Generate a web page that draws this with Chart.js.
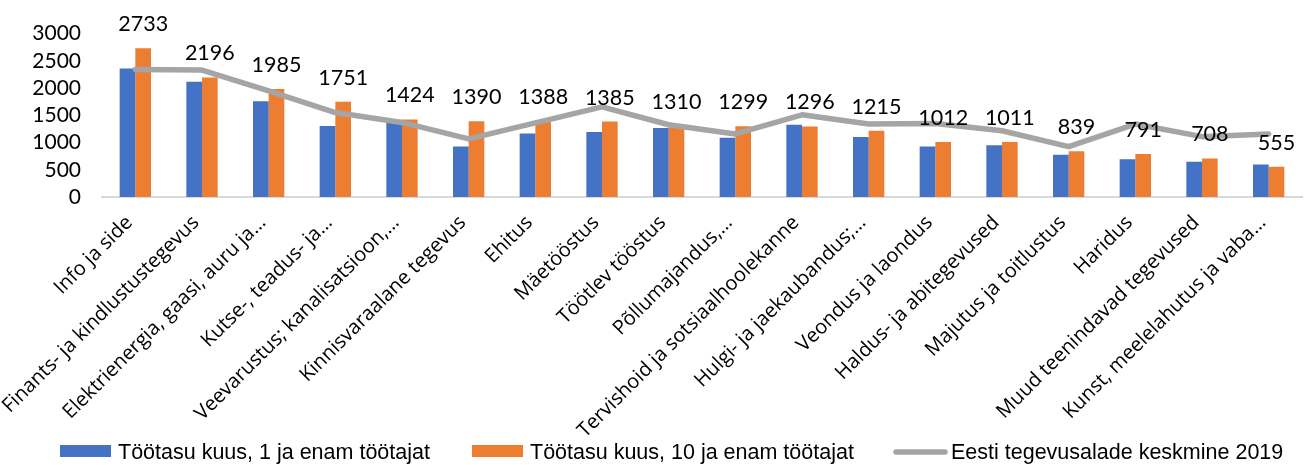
<!DOCTYPE html>
<html>
<head>
<meta charset="utf-8">
<script src="https://cdn.jsdelivr.net/npm/chart.js@4"></script>
<style>
  html, body { margin: 0; padding: 0; background: #fff; }
  canvas { display: block; }
</style>
</head>
<body>
<canvas id="chart" width="1312" height="465"></canvas>
<script>
// categories (tegevusalad)
const categories = [
  "Info ja side",
  "Finants- ja kindlustustegevus",
  "Elektrienergia, gaasi, auru ja…",
  "Kutse-, teadus- ja…",
  "Veevarustus; kanalisatsioon,…",
  "Kinnisvaraalane tegevus",
  "Ehitus",
  "Mäetööstus",
  "Töötlev tööstus",
  "Põllumajandus,…",
  "Tervishoid ja sotsiaalhoolekanne",
  "Hulgi- ja jaekaubandus;…",
  "Veondus ja laondus",
  "Haldus- ja abitegevused",
  "Majutus ja toitlustus",
  "Haridus",
  "Muud teenindavad tegevused",
  "Kunst, meelelahutus ja vaba…"
];

// series
const onePlus = [2361, 2117, 1759, 1303, 1358, 925, 1168, 1193, 1266, 1089, 1327, 1102, 925, 949, 774, 693, 646, 597];
const tenPlus = [2733, 2196, 1985, 1751, 1424, 1390, 1388, 1385, 1310, 1299, 1296, 1215, 1012, 1011, 839, 791, 708, 555];
const average2019 = [2343, 2330, 1950, 1551, 1369, 1066, 1360, 1655, 1327, 1157, 1509, 1339, 1350, 1217, 925, 1339, 1108, 1157];

const seriesNames = [
  "Töötasu kuus, 1 ja enam töötajat",
  "Töötasu kuus, 10 ja enam töötajat",
  "Eesti tegevusalade keskmine 2019"
];

const yTicks = [0, 500, 1000, 1500, 2000, 2500, 3000];

const BLUE = "#4472C4", ORANGE = "#ED7D31", GREY = "#A5A5A5";
const NUM_FONT = "Lato, sans-serif";
const CAT_FONT = '"Open Sans", Lato, sans-serif';
const LEGEND_FONT = '"Liberation Sans", Arial, sans-serif';

// numbers above the orange bars
const valueLabels = {
  id: "valueLabels",
  afterDatasetsDraw(chart){
    const meta = chart.getDatasetMeta(1);
    const ctx = chart.ctx;
    ctx.save();
    ctx.font = "21.5px " + NUM_FONT;
    ctx.fillStyle = "#000";
    ctx.textAlign = "center";
    ctx.textBaseline = "middle";
    meta.data.forEach((bar, i)=>{
      ctx.fillText(String(tenPlus[i]), bar.x, bar.y - 24);
    });
    ctx.restore();
  }
};

// legend row under the labels (the rotated labels run into it, like in Excel)
const legendX = [60, 472, 893];
const legendY = 451;
const bottomLegend = {
  id: "bottomLegend",
  afterDraw(chart){
    const ctx = chart.ctx;
    const ds = chart.data.datasets;
    ctx.save();
    ctx.font = "21.5px " + LEGEND_FONT;
    ctx.textBaseline = "alphabetic";
    legendX.forEach((x, i)=>{
      if(ds[i].type === "line"){
        ctx.strokeStyle = ds[i].borderColor;
        ctx.lineWidth = 5.5;
        ctx.lineCap = "round";
        ctx.beginPath();
        ctx.moveTo(x + 3, legendY + 1);
        ctx.lineTo(x + 52, legendY + 1);
        ctx.stroke();
      } else {
        ctx.fillStyle = ds[i].backgroundColor;
        ctx.fillRect(x, legendY - 6, 51, 12);
      }
      ctx.fillStyle = "#000";
      ctx.fillText(ds[i].label, x + 58, legendY + 8);
    });
    ctx.restore();
  }
};

new Chart(document.getElementById("chart"), {
  type: "bar",
  data: {
    labels: categories,
    datasets: [
      {label: seriesNames[0], data: onePlus, backgroundColor: BLUE, order: 1,
       categoryPercentage: 0.47, barPercentage: 1},
      {label: seriesNames[1], data: tenPlus, backgroundColor: ORANGE, order: 1,
       categoryPercentage: 0.47, barPercentage: 1},
      {label: seriesNames[2], data: average2019, type: "line", order: 0,
       borderColor: GREY, backgroundColor: GREY, borderWidth: 5.5,
       borderJoinStyle: "round", borderCapStyle: "round",
       pointRadius: 0, pointHoverRadius: 0, tension: 0}
    ]
  },
  options: {
    responsive: false,
    animation: false,
    devicePixelRatio: 1,
    layout: {padding: {top: 32, right: 10, left: 0, bottom: 0}},
    plugins: {
      tooltip: {enabled: false},
      legend: {display: false}
    },
    scales: {
      x: {
        grid: {display: false, drawTicks: false},
        border: {display: true, color: "#D9D9D9", width: 2},
        ticks: {
          autoSkip: false,
          minRotation: 45,
          maxRotation: 45,
          labelOffset: -6,
          padding: 14,
          color: "#000",
          font: {family: CAT_FONT, size: 20}
        },
        afterFit(scale){ scale.height = 268; }
      },
      y: {
        min: 0,
        max: 3000,
        afterBuildTicks(scale){ scale.ticks = yTicks.map(v=>({value: v})); },
        grid: {display: false, drawTicks: false},
        border: {display: false},
        ticks: {
          autoSkip: false,
          padding: 21,
          color: "#000",
          font: {family: NUM_FONT, size: 21},
          callback: v=>String(v)
        },
        afterFit(scale){ scale.width = 102; }
      }
    }
  },
  plugins: [valueLabels, bottomLegend]
});
</script>
</body>
</html>
